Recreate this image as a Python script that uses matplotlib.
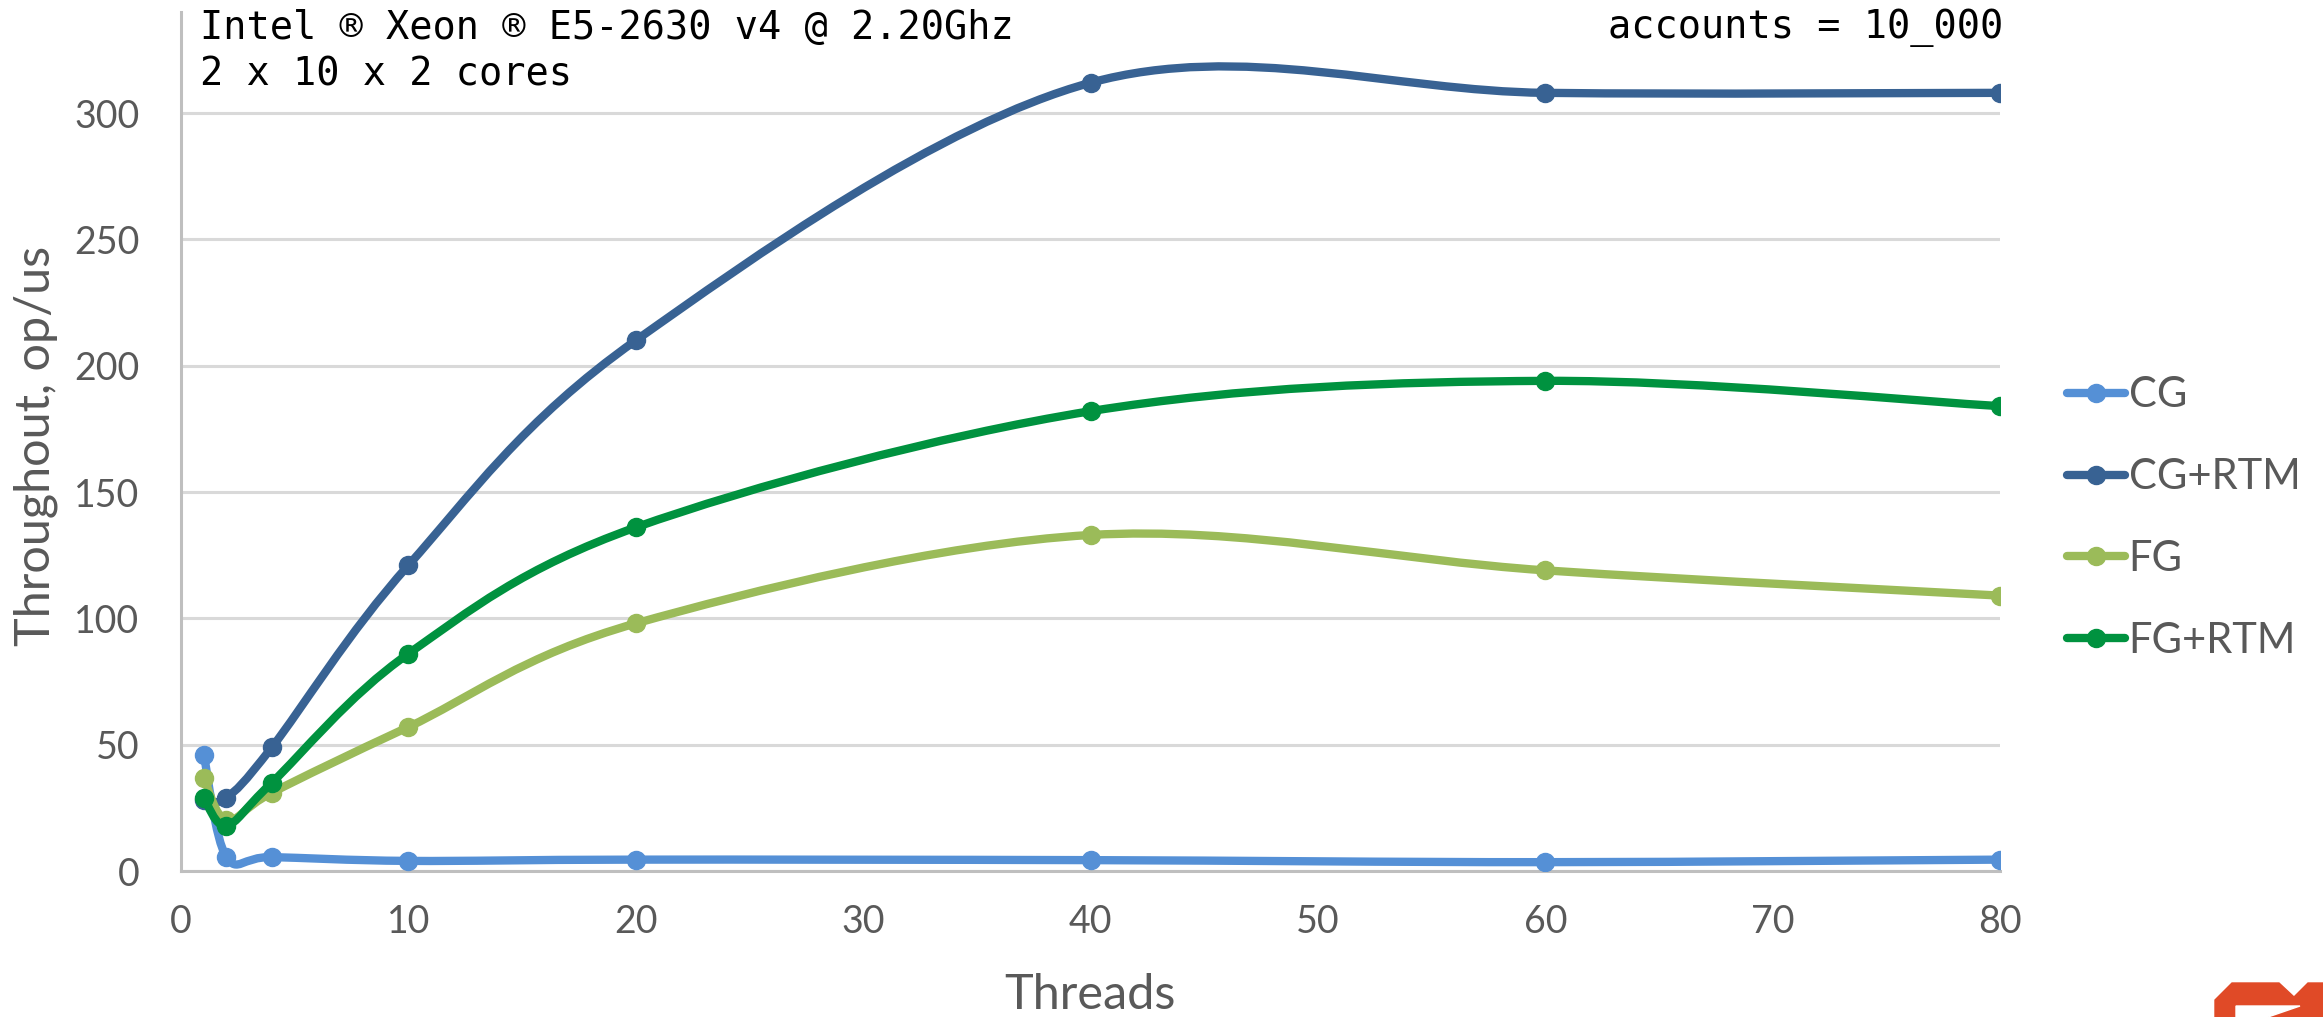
import numpy as np
import matplotlib
matplotlib.use('Agg')
from matplotlib import pyplot as plt
from matplotlib.path import Path
from matplotlib.patches import PathPatch, Polygon
from matplotlib.lines import Line2D

plt.rcParams['font.family'] = ['Lato', 'DejaVu Sans']

# data
threads = [1, 2, 4, 10, 20, 40, 60, 80]
cg = [46, 5.5, 5.5, 4, 4.5, 4.3, 3.5, 4.5]
cg_rtm = [28, 29, 49, 121, 210, 312, 308, 308]
fg = [37, 20, 31, 57, 98, 133, 119, 109]
fg_rtm = [29, 18, 35, 86, 136, 182, 194, 184]

series = [
    ('CG', cg, '#5590D6'),
    ('CG+RTM', cg_rtm, '#386293'),
    ('FG', fg, '#9BBB59'),
    ('FG+RTM', fg_rtm, '#00923F'),
]

x_ticks = [0, 10, 20, 30, 40, 50, 60, 70, 80]
y_ticks = [0, 50, 100, 150, 200, 250, 300]

W, H = 2323, 1017
TEXT = '#595959'


def smooth_path(xs, ys):
    # excel-like smoothed line: catmull-rom segments as cubic beziers
    p = np.column_stack([xs, ys]).astype(float)
    n = len(p)
    verts = [p[0]]
    codes = [Path.MOVETO]
    for i in range(n - 1):
        p0 = p[i - 1] if i > 0 else p[i]
        p1, p2 = p[i], p[i + 1]
        p3 = p[i + 2] if i + 2 < n else p[i + 1]
        c1 = p1 + (p2 - p0) / 6
        c2 = p2 - (p3 - p1) / 6
        verts += [c1, c2, p2]
        codes += [Path.CURVE4] * 3
    return Path(verts, codes)


fig = plt.figure(figsize=(W / 100, H / 100), dpi=100)
left, right, bottom, top = 181, 2000, 871, 12
ax = fig.add_axes([left / W, 1 - bottom / H, (right - left) / W, (bottom - top) / H])

handles = []
for k, (name, vals, col) in enumerate(series):
    path = smooth_path(threads, vals)
    ax.add_patch(PathPatch(path, facecolor='none', edgecolor=col, lw=6,
                           capstyle='round', joinstyle='round', zorder=3 + k))
    ax.plot(threads, vals, ls='none', marker='o', ms=13, color=col, zorder=3 + k)
    handles.append(Line2D([], [], color=col, lw=6, marker='o', ms=13,
                          solid_capstyle='round', label=name))

ax.set_xlim(0, 80)
ax.set_ylim(0, 340)
ax.set_xticks(x_ticks)
ax.set_yticks(y_ticks)
ax.tick_params(length=0, labelsize=27, labelcolor=TEXT)
ax.tick_params(axis='x', pad=24)
ax.tick_params(axis='y', pad=30)
ax.grid(axis='y', color='#D9D9D9', lw=2.2)
ax.set_axisbelow(True)
for s in ['top', 'right']:
    ax.spines[s].set_visible(False)
for s in ['left', 'bottom']:
    ax.spines[s].set_color('#BFBFBF')
    ax.spines[s].set_linewidth(2.2)

fig.text(1090 / W, 1 - 995 / H, 'Threads', ha='center', va='center',
         fontsize=35, color=TEXT)
fig.text(36 / W, 1 - 446 / H, 'Throughout, op/us', ha='center', va='center',
         rotation=90, fontsize=35, color=TEXT)

mono = dict(family='DejaVu Sans Mono', fontsize=27.8, color='black', va='center')
fig.text(200 / W, 1 - 28 / H, 'Intel ® Xeon ® E5-2630 v4 @ 2.20Ghz', ha='left', **mono)
fig.text(200 / W, 1 - 75 / H, '2 x 10 x 2 cores', ha='left', **mono)
fig.text(2003 / W, 1 - 28 / H, 'accounts = 10_000', ha='right', **mono)

fig.legend(handles=handles, loc='center left',
           bbox_to_anchor=(2067 / W, 1 - 518 / H), bbox_transform=fig.transFigure,
           frameon=False, fontsize=30, labelcolor=TEXT, borderpad=0,
           borderaxespad=0, handlelength=1.4, handletextpad=0.08,
           labelspacing=1.05)

# corner logo, cut off by the image edge
logo = [(2215, 1000), (2232, 983), (2279, 983), (2294, 997), (2308, 983),
        (2323, 983), (2323, 1017), (2215, 1017)]
notch = [(2236, 1006), (2300, 1006), (2268, 1017), (2236, 1017)]
fig.patches.append(Polygon([(x / W, 1 - y / H) for x, y in logo], closed=True,
                           transform=fig.transFigure, color='#E04A27'))
fig.patches.append(Polygon([(x / W, 1 - y / H) for x, y in notch], closed=True,
                           transform=fig.transFigure, color='white'))

fig.savefig('out.png', dpi=100, facecolor='white')
